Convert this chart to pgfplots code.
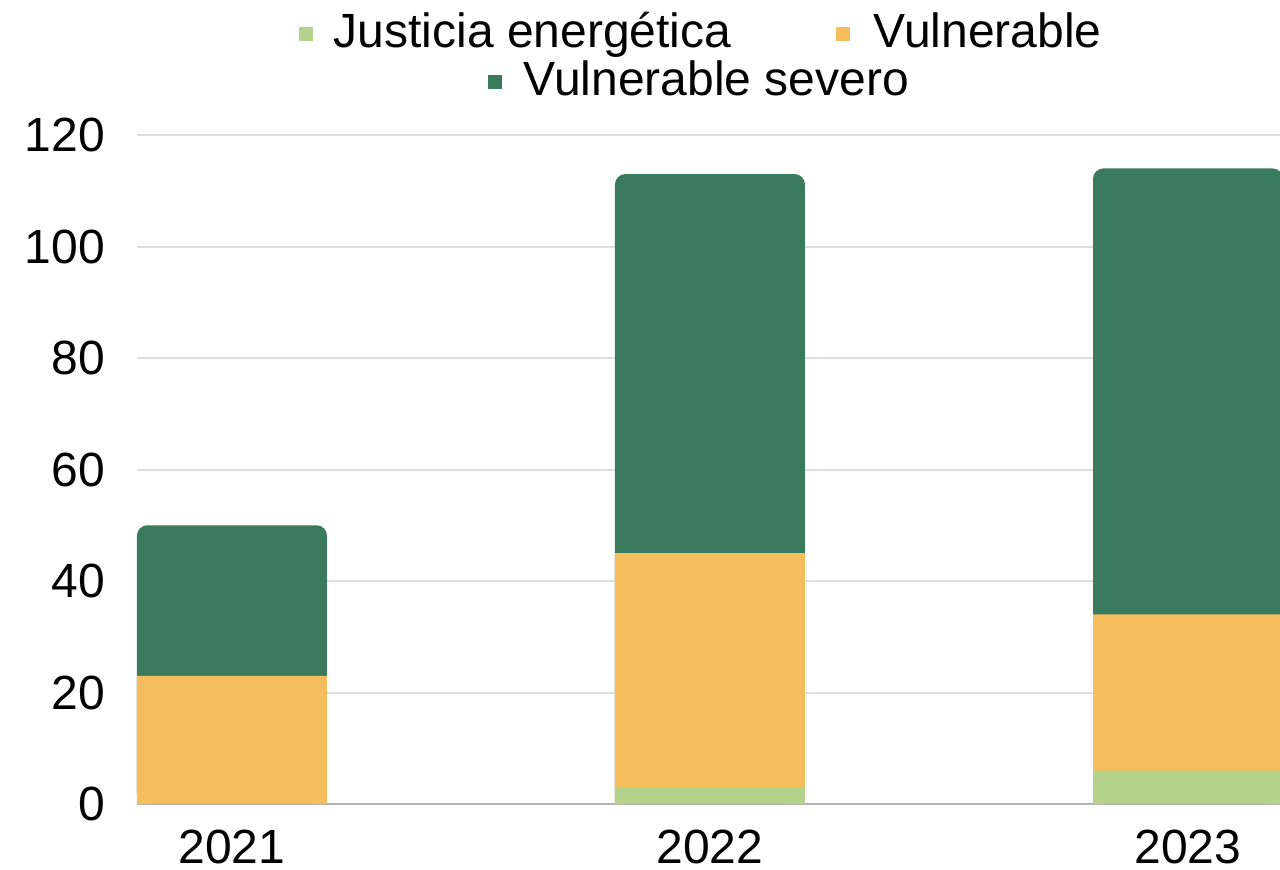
\documentclass[border=0pt]{standalone}
\usepackage{pgfplots}
\pgfplotsset{compat=1.18}
\usepackage{fontspec}
\setmainfont{Liberation Sans}
\definecolor{cJE}{HTML}{B3D38A}
\definecolor{cV}{HTML}{F5BD5C}
\definecolor{cVS}{HTML}{3A7B5E}
\begin{document}
\begin{tikzpicture}
\useasboundingbox (-34.25pt,-16.25pt) rectangle (285.75pt,201pt);
\begin{axis}[
  at={(0,0)}, anchor=south west,
  scale only axis, width=285.75pt, height=167.25pt,
  xmin=-0.1987, xmax=2.1925, ymin=0, ymax=120,
  xtick={0,1,2}, xticklabels={2021,2022,2023},
  ytick={0,20,...,120},
  major tick length=0pt,
  axis lines*=left,
  axis line style={-},
  y axis line style={draw=none},
  x axis line style={draw=black!30, line width=0.6pt},
  ymajorgrids, grid style={draw=black!13, line width=0.5pt},
  tick label style={font=\fontsize{12}{14}\selectfont},
  /pgf/number format/assume math mode=true,
  yticklabel style={xshift=-4.5pt},
  xticklabel style={yshift=-3pt},
  ybar, bar width=47.5pt, bar shift=0pt,
]
% cumulative tops: Vulnerable severo (total)
\addplot[fill=cVS, draw=none, rounded corners=2.6pt] coordinates {(0,50) (1,113) (2,114)};
% cumulative tops: Justicia + Vulnerable
\addplot[fill=cV, draw=none] coordinates {(0,23) (1,45) (2,34)};
% Justicia energetica
\addplot[fill=cJE, draw=none] coordinates {(1,3) (2,6)};
\end{axis}
\begin{scope}[every node/.style={font=\fontsize{12}{14}\selectfont, inner sep=0pt}]
\fill[cJE] (42.25pt,192.5pt) ++(-1.8pt,-1.8pt) rectangle ++(3.6pt,3.6pt);
\node[anchor=base west] at (49pt,189.25pt) {Justicia energética};
\fill[cV] (176.5pt,192.5pt) ++(-1.8pt,-1.8pt) rectangle ++(3.6pt,3.6pt);
\node[anchor=base west] at (184pt,189.25pt) {Vulnerable};
\fill[cVS] (89.5pt,180.5pt) ++(-1.8pt,-1.8pt) rectangle ++(3.6pt,3.6pt);
\node[anchor=base west] at (96.5pt,177pt) {Vulnerable severo};
\end{scope}
\end{tikzpicture}
\end{document}
